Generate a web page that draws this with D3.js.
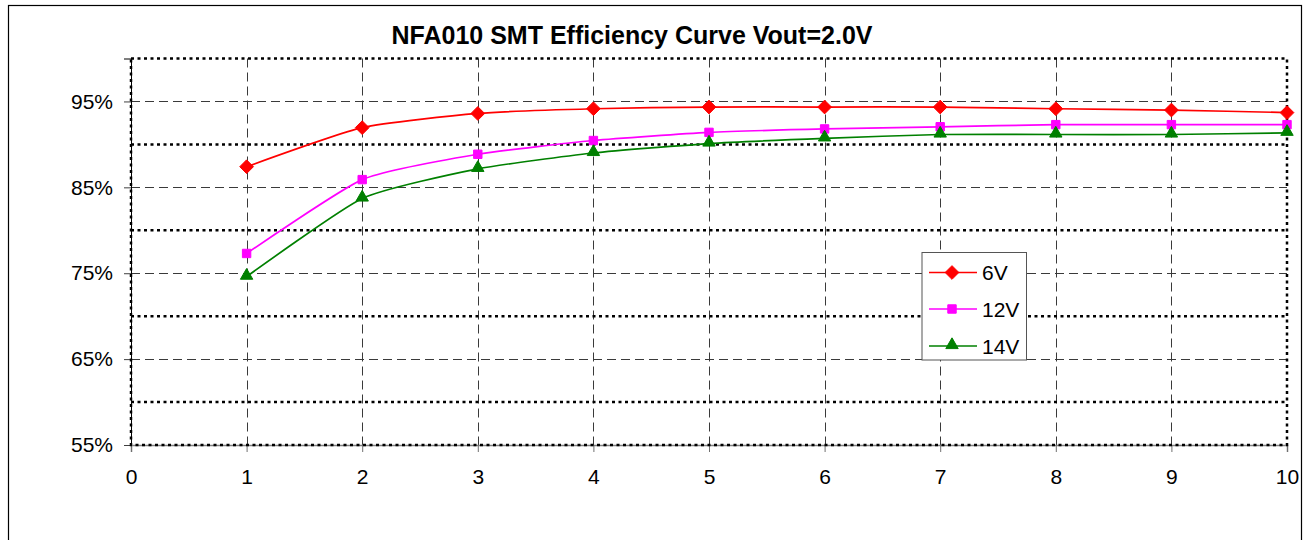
<!DOCTYPE html>
<html><head><meta charset="utf-8">
<script src="https://cdn.jsdelivr.net/npm/d3@7"></script>
<style>body{margin:0;background:#fff;} text{font-family:"Liberation Sans",Arial,sans-serif;}</style>
</head><body>
<svg id="c" width="1311" height="540"></svg>
<script>
const xValues = [1,2,3,4,5,6,7,8,9,10];
const seriesNames = ["6V","12V","14V"];
const eff6V  = [87.4,91.95,93.6,94.15,94.35,94.35,94.35,94.15,94.0,93.7];
const eff12V = [77.3,85.9,88.85,90.45,91.4,91.8,92.05,92.3,92.3,92.3];
const eff14V = [74.6,83.7,87.15,89.0,90.1,90.7,91.15,91.15,91.15,91.35];
const xTicks = [0,1,2,3,4,5,6,7,8,9,10];
const yLabelTicks = [55,65,75,85,95];
const yMinorTicks = [60,70,80,90];
const title = "NFA010 SMT Efficiency Curve Vout=2.0V";
const colors = ["#ff0000","#ff00ff","#008000"];
const symbols = [d3.symbolDiamond2, d3.symbolSquare2, d3.symbolTriangle2];
const symSizes = [120,90,110];

const svg = d3.select("#c");
const L=131, R=1287, T=58.5, B=445;
const x = d3.scaleLinear().domain([0,10]).range([L,R]);
const y = d3.scaleLinear().domain([55,100]).range([B,T]);
const FF = "Liberation Sans, Arial, sans-serif";

// outer border
svg.append("rect").attr("x",8.5).attr("y",5.5).attr("width",1293).attr("height",545)
  .attr("fill","#fff").attr("stroke","#000").attr("stroke-width",1.2);

// title
svg.append("text").attr("x",632).attr("y",44).attr("text-anchor","middle")
  .attr("font-size","25px").attr("font-weight","bold").text(title);

const g = svg.append("g");
g.selectAll(".hg").data(yLabelTicks.filter(d=>d>55)).join("line")
  .attr("x1",L).attr("x2",R).attr("y1",d=>Math.round(y(d))+0.5).attr("y2",d=>Math.round(y(d))+0.5)
  .attr("stroke","#3a3a3a").attr("stroke-width",1).attr("stroke-dasharray","9,5");
g.selectAll(".vg").data(xTicks.filter(d=>d>0&&d<10)).join("line")
  .attr("x1",d=>Math.round(x(d))+0.5).attr("x2",d=>Math.round(x(d))+0.5).attr("y1",T).attr("y2",B)
  .attr("stroke","#3a3a3a").attr("stroke-width",1).attr("stroke-dasharray","9,5");
g.selectAll(".mg").data(yMinorTicks).join("line")
  .attr("x1",L).attr("x2",R).attr("y1",d=>y(d)).attr("y2",d=>y(d))
  .attr("stroke","#000").attr("stroke-width",2.5).attr("stroke-dasharray","3,3.5");

// axes
const xAxis = d3.axisBottom(x).tickValues(xTicks).tickSize(7).tickPadding(17).tickFormat(d3.format("d"));
const gx = svg.append("g").attr("transform",`translate(0,${B})`).call(xAxis);
gx.select(".domain").attr("stroke","#808080").attr("stroke-width",1.5);
gx.selectAll(".tick line").attr("stroke","#707070");
gx.selectAll("text").attr("font-size","21px").attr("fill","#000").attr("font-family",FF);

const yAxis = d3.axisLeft(y).tickValues(yLabelTicks).tickSize(7).tickPadding(11).tickFormat(d=>d+"%");
const gy = svg.append("g").attr("transform",`translate(${L},0)`).call(yAxis);
gy.select(".domain").attr("stroke","#000").attr("stroke-width",1);
gy.selectAll(".tick line").attr("stroke","#404040");
gy.selectAll("text").attr("font-size","21px").attr("fill","#000").attr("font-family",FF);

// plot-area dotted border
svg.append("rect").attr("x",L).attr("y",T).attr("width",R-L).attr("height",B-T)
  .attr("fill","none").attr("stroke","#000").attr("stroke-width",2.5).attr("stroke-dasharray","3,3.5");

// series
const allSeries = [eff6V, eff12V, eff14V];
const line = d3.line().x((d,i)=>x(xValues[i])).y(d=>y(d)).curve(d3.curveCardinal.tension(0.45));
allSeries.forEach((vals,k)=>{
  svg.append("path").attr("d",line(vals)).attr("fill","none").attr("stroke",colors[k]).attr("stroke-width",1.7);
});
allSeries.forEach((vals,k)=>{
  const sym = d3.symbol().type(symbols[k]).size(symSizes[k]);
  svg.selectAll(".m"+k).data(vals).join("path")
    .attr("transform",(d,i)=>`translate(${x(xValues[i])},${y(d)+(k===2?-1:0)})`)
    .attr("d",sym()).attr("fill",colors[k]).attr("stroke",colors[k]).attr("stroke-width",1);
});

// legend
const lg = svg.append("g");
lg.append("rect").attr("x",922).attr("y",252.5).attr("width",104.5).attr("height",107.5)
  .attr("fill","#fff").attr("stroke","#555").attr("stroke-width",1);
const legY = [272.5,309,346];
seriesNames.forEach((n,k)=>{
  lg.append("line").attr("x1",929).attr("x2",977).attr("y1",legY[k]).attr("y2",legY[k])
    .attr("stroke",colors[k]).attr("stroke-width",1.7);
  const sym = d3.symbol().type(symbols[k]).size(symSizes[k]);
  lg.append("path").attr("transform",`translate(952,${legY[k]+(k===2?-1:0)})`).attr("d",sym())
    .attr("fill",colors[k]).attr("stroke",colors[k]);
  lg.append("text").attr("x",982).attr("y",legY[k]+7.5).attr("font-size","21px").attr("font-family",FF).text(n);
});
</script>
</body></html>
